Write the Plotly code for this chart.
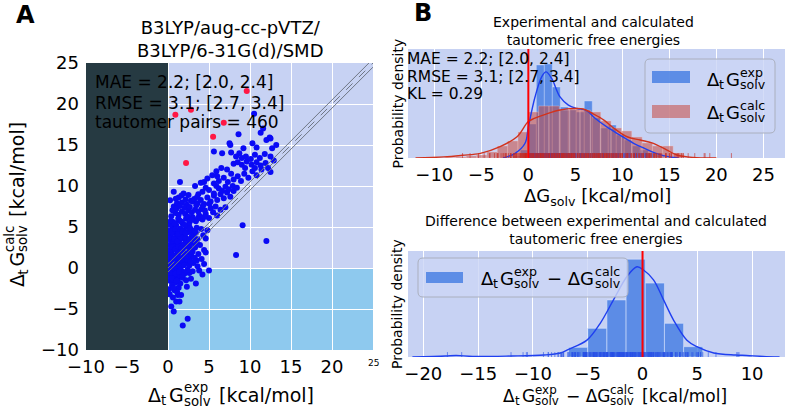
import plotly.graph_objects as go

W, H = 787, 411

# ---------------- data ----------------
# scatter points (exp, calc)  [kcal/mol]
pts_below_zero = [(0.2,-0.3),(0.4,-0.8),(0.6,-0.2),(0.8,-1.1),(1.0,-0.5),(1.2,-1.4),(0.3,-1.6),(0.5,-2.1),
    (0.9,-1.8),(1.4,-0.9),(1.6,-0.3),(1.8,-1.2),(2.2,-1.5),(2.6,-0.6),(3.0,-0.4),(3.4,-1.9),(5.0,-0.3),
    (0.1,-2.6),(0.8,-2.7),(1.3,-2.4),(1.6,-3.3),(1.2,-3.3),(1.0,-4.1),(1.4,-4.1),(0.4,-4.7),(0.7,-5.3),
    (2.4,-6.2),(1.8,-7.0),(0.2,-1.0),(0.1,-0.4),(2.0,-0.7),(2.4,-0.2),(1.1,-2.9),(0.6,-3.6),(0.2,-3.2),
    (2.8,-1.3),(3.8,-0.3),(4.2,-0.8),(0.5,-0.1),(1.5,-1.9),(0.3,-0.6),(0.7,-1.4),(1.1,-0.2),(1.9,-0.5),
    (2.3,-2.3),(0.9,-0.7),(0.45,-1.25),(1.05,-1.55),(1.75,-0.85),(0.65,-2.45),(1.35,-0.45)]
pts_low = [(0.1,0.3),(0.5,0.6),(0.9,0.2),(1.3,0.5),(1.7,0.4),(2.1,0.7),(2.6,0.3),(3.1,0.6),(3.6,0.2),(4.4,0.5),
    (0.2,1.0),(0.6,0.8),(1.0,1.3),(1.5,0.9),(1.9,1.2),(2.4,1.0),(2.9,1.4),(3.5,0.9),(4.1,1.1),(8.3,1.6),
    (0.1,1.6),(0.4,1.9),(0.8,1.5),(1.2,1.8),(1.6,1.5),(2.0,1.9),(2.5,1.6),(3.0,2.0),(3.7,1.7),(4.6,1.9),
    (0.3,2.2),(0.7,2.5),(1.1,2.1),(1.4,2.4),(1.8,2.2),(2.3,2.6),(2.8,2.3),(3.3,2.5),(4.4,2.2),
    (0.1,2.8),(0.5,3.1),(0.9,2.7),(1.3,3.0),(1.7,2.8),(2.2,3.2),(2.7,2.9),(3.2,3.1),(3.9,2.8),(12.0,3.3),
    (0.2,3.5),(0.6,3.3),(1.0,3.7),(1.4,3.4),(1.9,3.6),(2.4,3.3),(2.9,3.8),(3.6,3.5),(4.6,3.6),
    (0.3,4.0),(0.7,4.3),(1.1,3.9),(1.6,4.2),(2.0,4.0),(2.5,4.4),(3.0,4.1),(3.4,4.3),(4.3,4.0),
    (0.1,4.6),(0.6,4.9),(1.0,4.5),(1.5,4.8),(1.9,4.6),(2.3,5.0),(2.8,4.7),(3.5,4.9),(4.8,4.6),(9.1,5.2),
    (0.15,0.05),(0.35,0.45),(0.75,0.55),(1.15,0.85),(1.55,0.15),(1.95,0.35),(2.35,1.35),(2.75,0.75),
    (0.25,1.35),(0.55,1.25),(0.95,1.05),(1.35,1.25),(1.75,1.75),(2.15,1.45),(2.65,2.05),(3.25,1.25),
    (0.45,2.55),(0.85,2.25),(1.25,2.65),(1.65,2.45),(2.05,2.95),(2.45,2.75),(3.45,3.05),(0.35,3.85),
    (0.75,3.55),(1.15,3.25),(1.55,3.75),(2.15,3.65),(2.65,3.55),(3.15,3.75),(0.45,4.35),(0.85,4.75),
    (1.25,4.15),(1.75,4.45),(2.15,4.25),(2.65,4.95),(3.25,4.55),(4.05,4.75)]
pts_mid = [(0.2,5.3),(0.6,5.6),(1.0,5.2),(1.4,5.8),(1.8,5.4),(2.2,6.0),(2.6,5.5),(3.0,6.2),(3.4,5.7),(3.8,6.4),
    (4.2,5.9),(4.6,6.6),(5.0,6.1),(5.5,6.8),(6.0,6.4),(0.4,6.3),(0.9,6.7),(1.3,6.5),(1.7,6.9),(2.1,6.6),
    (2.5,7.0),(2.9,6.8),(3.3,7.1),(3.7,6.9),(4.1,7.2),(4.5,7.0),(5.2,7.3),(5.8,7.5),(6.4,7.1),(7.0,7.4),
    (0.7,7.5),(1.1,7.9),(1.7,8.0),(2.3,7.7),(2.8,8.2),(3.0,8.1),(3.2,8.4),(3.6,7.9),(4.0,8.3),(4.4,7.8),
    (4.8,8.6),(5.2,8.1),(5.6,8.8),(6.0,8.3),(6.4,9.0),(6.8,8.5),(7.2,9.2),(7.6,8.7),(8.0,9.4),(0.7,9.3),
    (1.9,9.1),(4.2,9.3),(5.0,9.5),(5.6,9.1),(6.2,9.7),(6.6,9.4),(7.0,9.9),(7.4,9.6),(7.9,10.0),(8.4,9.8),
    (2.5,8.9),(3.7,9.0),(4.6,9.8),(1.3,8.6),(5.9,10.0),
    (0.35,5.75),(0.85,5.45),(1.25,6.05),(1.65,5.65),(2.05,5.25),(2.45,6.25),(2.85,5.85),(3.65,6.05),
    (4.45,6.25),(0.55,7.05),(1.05,7.25),(1.45,7.55),(2.05,7.35),(2.65,7.45),(3.45,7.65),(4.25,7.55),
    (5.05,7.85),(0.25,8.25),(0.95,8.45),(1.65,8.85),(2.15,8.35),(3.55,8.65)]
pts_high = [(1.46,10.5),(3.3,10.0),(4.0,10.4),(4.4,10.5),(5.6,10.3),(5.4,11.3),(7.7,11.5),(6.2,10.6),(6.8,11.0),
    (7.3,10.5),(8.0,10.8),(8.5,11.2),(8.9,10.6),(9.3,11.5),(9.8,11.0),(10.3,11.8),(10.8,11.3),(11.4,12.0),
    (8.0,12.7),(8.5,12.9),(9.0,12.6),(9.6,13.0),(10.2,12.6),(10.8,12.9),(11.3,12.5),(11.9,12.8),(6.5,12.2),
    (7.2,12.0),(5.9,11.8),(9.4,12.2),(10.6,12.2),(12.2,12.2),(12.5,11.7),(4.8,10.9),(6.0,11.2),
    (7.5,15.2),(7.6,15.0),(5.6,14.2),(6.6,14.0),(7.7,14.1),(8.7,14.0),(8.3,13.6),(9.0,13.4),(9.5,13.6),
    (10.1,13.3),(10.6,13.8),(11.2,13.4),(11.8,13.9),(12.5,13.6),(12.7,14.6),(11.3,16.5),(12.5,15.8),
    (12.0,15.6),(13.2,15.0),(10.3,15.2),(9.2,14.6),(10.8,14.7),(11.6,17.0),(8.6,16.3),(12.9,13.1),
    (10.5,18.8),(12.4,15.9)]
pts_large_error = [(9.6,21.6),(2.8,19.3),(0.9,18.7),(6.8,17.7),(5.5,16.0),(2.2,12.8)]

stats_A = ["MAE = 2.2; [2.0, 2.4]", "RMSE = 3.1; [2.7, 3.4]", "tautomer pairs = 460"]
stats_B = ["MAE = 2.2; [2.0, 2.4]", "RMSE = 3.1; [2.7, 3.4]", "KL = 0.29"]

ticks_A = [-10, -5, 0, 5, 10, 15, 20, 25]
ticks_B_top = [-10, -5, 0, 5, 10, 15, 20, 25]
ticks_B_bot = [-20, -15, -10, -5, 0, 5, 10]

# histogram of experimental values (density)
exp_edges = [-2.55,-1.7,-0.85,0,0.85,1.7,2.55,3.4,4.25,5.1,5.95,6.8,7.65,8.5,9.35,10.2,11.05,11.9,12.75,13.6,14.45]
exp_density = [0.0018,0.0037,0.0147,0.0624,0.1707,0.1725,0.1303,0.0936,0.0881,0.0844,0.1046,0.0734,0.055,
               0.0606,0.0422,0.033,0.022,0.0147,0.0092,0.0055]
# histogram of calculated values (density)
calc_edges = [-8.8,-7.7,-6.6,-5.5,-4.4,-3.3,-2.2,-1.1,0,1.1,2.2,3.3,4.4,5.5,6.6,7.7,8.8,9.9,11.0,12.1,13.2,14.3,15.4,16.5]
calc_density = [0.0009,0.0018,0.0037,0.0055,0.011,0.022,0.0312,0.0477,0.0844,0.0954,0.0954,0.0881,0.0918,0.0881,
                0.0844,0.0679,0.055,0.0495,0.0385,0.0275,0.022,0.022,0.0092]
# KDE curves
exp_kde_x = [-2.7,-1.4,-0.35,0,0.71,1.42,1.88,2.48,3.37,4.26,5.15,6.2,7.1,8.35,9.75,11.2,12.3,13.5,15,16]
exp_kde_y = [0,0.0086,0.027,0.057,0.112,0.149,0.158,0.146,0.112,0.097,0.091,0.087,0.073,0.057,0.042,0.027,0.018,0.009,0.002,0]
calc_kde_x = [-12,-9,-7,-5.1,-3.0,-1.2,0,0.7,1.96,3.37,4.8,5.85,6.9,8.0,9.0,10.5,11.9,13.3,14.7,15.8,17.5,20]
calc_kde_y = [0,0.002,0.005,0.0086,0.021,0.039,0.067,0.073,0.081,0.088,0.091,0.09,0.081,0.07,0.056,0.039,0.033,
              0.027,0.015,0.0055,0.001,0]
# histogram of differences (density)
diff_edges = [-6.75,-5.0,-3.25,-1.5,0.25,2.0,3.75,5.5]
diff_density = [0.0178,0.0528,0.105,0.180,0.136,0.062,0.019]
diff_kde_x = [-21,-18,-17,-15.5,-12,-9,-7.5,-6.75,-5.07,-3.86,-2.65,-1.42,-0.51,0.09,1.0,1.92,2.83,4.05,4.96,6.5,8.5,9.5,11,12.5]
diff_kde_y = [0,0.0018,0.0028,0.001,0.0018,0.0037,0.0074,0.014,0.031,0.062,0.105,0.148,0.166,0.16,0.142,0.105,
              0.068,0.031,0.019,0.0074,0.0037,0.0028,0.001,0]

# ---------------- derived ----------------
all_pts = pts_below_zero + pts_low + pts_mid + pts_high + pts_large_error
exp_dG = [p[0] for p in all_pts]
calc_dG = [p[1] for p in all_pts]
diff_dG = [e - c for e, c in zip(exp_dG, calc_dG)]
big = [abs(d) > 10 for d in diff_dG]

# ---------------- style ----------------
LAV = "#c7d2f3"
DARK = "#263a42"
LIGHTBLUE = "#8ec9ee"
EXPC = "rgba(62,120,226,0.78)"
CALCC = "rgba(200,72,62,0.55)"
FONT = "DejaVu Sans"

def px(x): return x / W
def py(y): return 1 - y / H

fig = go.Figure()

# ---- panel A ----
fig.add_trace(go.Scatter(x=[e for e, b in zip(exp_dG, big) if not b], y=[c for c, b in zip(calc_dG, big) if not b],
                         mode="markers", marker=dict(color="#0a0af5", size=6, line=dict(width=0)),
                         xaxis="x", yaxis="y"))
fig.add_trace(go.Scatter(x=[e for e, b in zip(exp_dG, big) if b], y=[c for c, b in zip(calc_dG, big) if b],
                         mode="markers", marker=dict(color="#ff1744", size=6, line=dict(width=0)),
                         xaxis="x", yaxis="y"))
diag = [0, 25]
for off, dash in [(0.5, "solid"), (0, "dash"), (-0.5, "solid")]:
    fig.add_trace(go.Scatter(x=diag, y=[d + off for d in diag], mode="lines",
                             line=dict(color="#6f7785", width=1, dash=dash), xaxis="x", yaxis="y"))

# ---- panel B top ----
def centers(edges): return [(a + b) / 2 for a, b in zip(edges[:-1], edges[1:])]
def widths(edges): return [b - a for a, b in zip(edges[:-1], edges[1:])]

fig.add_trace(go.Bar(x=centers(exp_edges), y=exp_density, width=widths(exp_edges),
                     marker=dict(color=EXPC, line=dict(color="rgba(220,230,255,0.6)", width=0.6)),
                     xaxis="x2", yaxis="y2"))
fig.add_trace(go.Bar(x=centers(calc_edges), y=calc_density, width=widths(calc_edges),
                     marker=dict(color=CALCC, line=dict(color="rgba(240,200,200,0.6)", width=0.6)),
                     xaxis="x2", yaxis="y2"))
fig.add_trace(go.Scatter(x=exp_kde_x, y=exp_kde_y, mode="lines", line=dict(color="#1f3ff0", width=1.4, shape="spline"),
                         xaxis="x2", yaxis="y2"))
fig.add_trace(go.Scatter(x=calc_kde_x, y=calc_kde_y, mode="lines", line=dict(color="#d2321c", width=1.4, shape="spline"),
                         xaxis="x2", yaxis="y2"))
fig.add_trace(go.Scatter(x=exp_dG, y=[0] * len(exp_dG), mode="markers",
                         marker=dict(symbol="line-ns", size=7, line=dict(color="rgba(40,80,230,0.6)", width=1)),
                         xaxis="x2", yaxis="y2"))
fig.add_trace(go.Scatter(x=calc_dG, y=[0] * len(calc_dG), mode="markers",
                         marker=dict(symbol="line-ns", size=7, line=dict(color="rgba(200,40,30,0.6)", width=1)),
                         xaxis="x2", yaxis="y2"))

# ---- panel B bottom ----
fig.add_trace(go.Bar(x=centers(diff_edges), y=diff_density, width=widths(diff_edges),
                     marker=dict(color=EXPC, line=dict(color="rgba(220,230,255,0.7)", width=0.8)),
                     xaxis="x3", yaxis="y3"))
fig.add_trace(go.Scatter(x=diff_kde_x, y=diff_kde_y, mode="lines", line=dict(color="#1f3ff0", width=1.4, shape="spline"),
                         xaxis="x3", yaxis="y3"))
fig.add_trace(go.Scatter(x=diff_dG, y=[0] * len(diff_dG), mode="markers",
                         marker=dict(symbol="line-ns", size=7, line=dict(color="rgba(40,80,230,0.6)", width=1)),
                         xaxis="x3", yaxis="y3"))

tickfont = dict(family=FONT, size=18, color="black")
def minus(v): return str(v).replace("-", "−")
fig.update_layout(
    width=W, height=H, margin=dict(l=0, r=0, t=0, b=0, autoexpand=False), paper_bgcolor="white", plot_bgcolor=LAV,
    showlegend=False, barmode="overlay", bargap=0,
    xaxis=dict(domain=[px(86), px(373)], range=[-10, 25], anchor="y", tickvals=ticks_A[:-1],
               ticktext=[minus(t) for t in ticks_A[:-1]], automargin=False,
               tickfont=tickfont, showgrid=True, gridcolor="white", gridwidth=1, zeroline=False, ticks="",
               ticklabelstandoff=4),
    yaxis=dict(domain=[py(350), py(63)], range=[-10, 25], anchor="x", tickvals=ticks_A,
               ticktext=[minus(t) for t in ticks_A], automargin=False,
               tickfont=tickfont, showgrid=True, gridcolor="white", gridwidth=1, zeroline=False, ticks="",
               ticklabelstandoff=6),
    xaxis2=dict(domain=[px(408), px(785)], range=[-12.8, 27.3], anchor="y2", tickvals=ticks_B_top,
                ticktext=[minus(t) for t in ticks_B_top], automargin=False,
                tickfont=tickfont, showgrid=True, gridcolor="white", gridwidth=1, zeroline=False, ticks="",
                ticklabelstandoff=4),
    yaxis2=dict(domain=[py(158), py(49)], range=[0, 0.2], anchor="x2", showticklabels=False, showgrid=False,
                zeroline=False, ticks="", automargin=False),
    xaxis3=dict(domain=[px(408), px(785)], range=[-21.4, 13.0], anchor="y3", tickvals=ticks_B_bot,
                ticktext=[minus(t) for t in ticks_B_bot], automargin=False,
                tickfont=tickfont, showgrid=True, gridcolor="white", gridwidth=1, zeroline=False, ticks="",
                ticklabelstandoff=4),
    yaxis3=dict(domain=[py(357), py(251)], range=[0, 0.195], anchor="x3", showticklabels=False, showgrid=False,
                zeroline=False, ticks="", automargin=False),
)

shapes = []
# panel A regions
shapes.append(dict(type="rect", xref="x", yref="y", x0=0, x1=25, y0=-10, y1=0, fillcolor=LIGHTBLUE,
                   line=dict(width=0), layer="below"))
shapes.append(dict(type="rect", xref="x", yref="y", x0=-10, x1=0, y0=-10, y1=25, fillcolor=DARK,
                   line=dict(width=0), layer="above"))
# red zero lines
shapes.append(dict(type="line", xref="x2", yref="y2 domain", x0=0, x1=0, y0=0, y1=1,
                   line=dict(color="#ff0000", width=2)))
shapes.append(dict(type="line", xref="x3", yref="y3 domain", x0=0, x1=0, y0=0, y1=1,
                   line=dict(color="#ff0000", width=2)))

def rounded_box(x0, y0, x1, y1, r=5):
    X = lambda v: px(v); Y = lambda v: py(v)
    path = (f"M {X(x0+r)},{Y(y0)} L {X(x1-r)},{Y(y0)} Q {X(x1)},{Y(y0)} {X(x1)},{Y(y0+r)} "
            f"L {X(x1)},{Y(y1-r)} Q {X(x1)},{Y(y1)} {X(x1-r)},{Y(y1)} L {X(x0+r)},{Y(y1)} "
            f"Q {X(x0)},{Y(y1)} {X(x0)},{Y(y1-r)} L {X(x0)},{Y(y0+r)} Q {X(x0)},{Y(y0)} {X(x0+r)},{Y(y0)} Z")
    return dict(type="path", xref="paper", yref="paper", path=path, fillcolor="rgba(204,214,245,0.82)",
                line=dict(color="rgba(170,175,190,1)", width=1), layer="above")

def patch(x0, y0, x1, y1, color):
    return dict(type="rect", xref="paper", yref="paper", x0=px(x0), x1=px(x1), y0=py(y1), y1=py(y0),
                fillcolor=color, line=dict(width=0), layer="above")

shapes.append(rounded_box(645, 59, 775, 133))
shapes.append(patch(652, 71, 690, 83, EXPC))
shapes.append(patch(652, 105, 690, 118, CALCC))
shapes.append(rounded_box(418, 258, 628, 297))
shapes.append(patch(426, 272, 463, 283, EXPC))
fig.update_layout(shapes=shapes)

annotations = []
def ann(text, x, y, size, xanchor="center", yanchor="middle", angle=0, bold=False):
    annotations.append(dict(text=("<b>%s</b>" % text) if bold else text, x=px(x), y=py(y), xref="paper", yref="paper",
                            showarrow=False, xanchor=xanchor, yanchor=yanchor, textangle=angle, borderpad=0,
                            font=dict(family=FONT, size=size, color="black")))

CW = {'Δ': 0.684, 'G': 0.775, 't': 0.392, 'e': 0.615, 'x': 0.592, 'p': 0.635, 's': 0.521, 'o': 0.612, 'l': 0.278,
      'v': 0.592, 'c': 0.550, 'a': 0.613, ' ': 0.318, '[': 0.390, ']': 0.390, 'k': 0.579, '/': 0.337, 'm': 0.974,
      '−': 0.838}
def tw(s, size): return sum(CW.get(ch, 0.6) for ch in s) * size

def math_label(pieces, cx, cy, size, rotate=False, align="center"):
    small = 0.7 * size
    gap = 0.12 * size
    ws = []
    for p in pieces:
        if p[0] == "n": ws.append(tw(p[1], size))
        elif p[0] == "sub": ws.append(tw(p[1], small) + gap)
        else: ws.append(max(tw(p[1], small), tw(p[2], small)) + gap)
    total = sum(ws)
    pos = -total / 2 if align == "center" else 0
    def put(text, along, perp, fs):
        if rotate:
            ann(text, cx + perp, cy - along, fs, xanchor="center", yanchor="bottom", angle=-90)
        else:
            ann(text, cx + along, cy + perp, fs, xanchor="left", yanchor="middle")
    for p, w in zip(pieces, ws):
        if p[0] == "n":
            s = p[1].lstrip(" ")
            lead = tw(p[1][:len(p[1]) - len(s)], size)
            put(s.rstrip(" "), pos + lead, 0, size)
        elif p[0] == "sub":
            put(p[1], pos, 0.3 * size, small)
        else:
            put(p[1], pos, -0.38 * size, small)
            put(p[2], pos, 0.32 * size, small)
        pos += w

# panel labels and titles
ann("A", 25, 15, 24, bold=True)
ann("B", 423, 13, 24, bold=True)
ann("B3LYP/aug-cc-pVTZ/<br>B3LYP/6-31G(d)/SMD", 230, 39, 18)
ann("Experimental and calculated<br>tautomeric free energies", 593, 31.5, 14)
ann("Difference between experimental and calculated<br>tautomeric free energies", 596, 230, 14)
for i, s in enumerate(stats_A):
    ann(s, 94, [82, 103, 122][i], 17, xanchor="left")
for i, s in enumerate(stats_B):
    ann(s, 406, [59, 77, 94][i], 15.5, xanchor="left")
ann("Probability density", 397, 103.5, 14, angle=-90)
ann("Probability density", 397, 304, 14, angle=-90)
ann("ΔG<sub>solv</sub> [kcal/mol]", 597, 197, 18)
ann(str(ticks_A[-1]), 373, 363, 9)   # small last tick label of panel A x axis

math_label([("n", "Δ"), ("sub", "t"), ("n", "G"), ("stack", "exp", "solv"), ("n", " [kcal/mol]")], 230, 395, 19)
math_label([("n", "Δ"), ("sub", "t"), ("n", "G"), ("stack", "calc", "solv"), ("n", " [kcal/mol]")], 17, 206, 19,
           rotate=True)
math_label([("n", "Δ"), ("sub", "t"), ("n", "G"), ("stack", "exp", "solv"), ("n", " − ΔG"), ("stack", "calc", "solv"),
            ("n", " [kcal/mol]")], 614, 396, 17)
math_label([("n", "Δ"), ("sub", "t"), ("n", "G"), ("stack", "exp", "solv")], 706, 79, 18, align="left")
math_label([("n", "Δ"), ("sub", "t"), ("n", "G"), ("stack", "calc", "solv")], 706, 112, 18, align="left")
math_label([("n", "Δ"), ("sub", "t"), ("n", "G"), ("stack", "exp", "solv"), ("n", " − ΔG"), ("stack", "calc", "solv")],
           480, 278, 18, align="left")

fig.update_layout(annotations=annotations)
fig.write_html("out.html", config={"displayModeBar": False, "staticPlot": True},
               post_script="document.body.style.margin='0px';document.body.style.padding='0px';")
